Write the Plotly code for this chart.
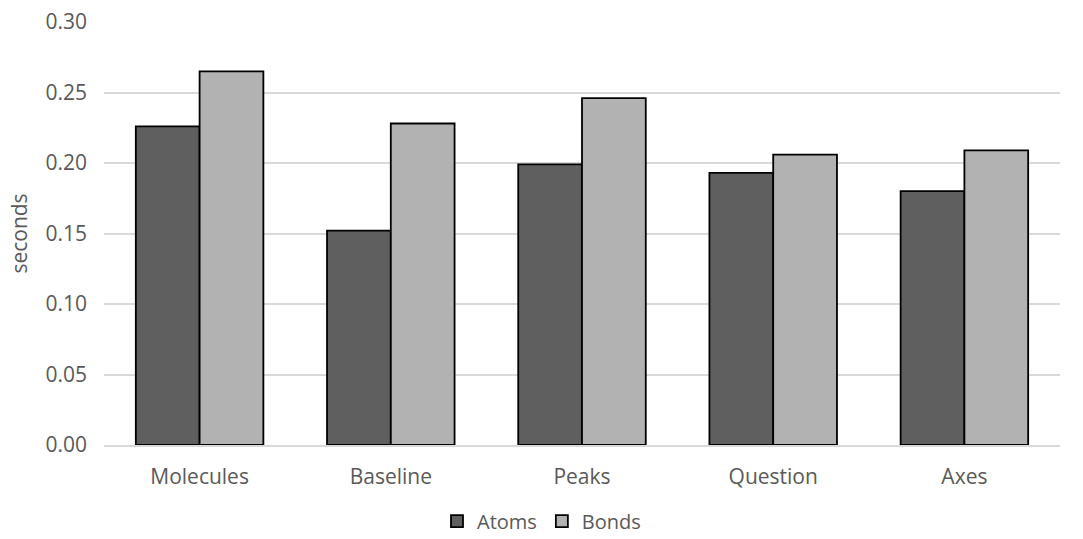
import plotly.graph_objects as go

# Data
categories = ["Molecules", "Baseline", "Peaks", "Question", "Axes"]
atoms = [0.226, 0.152, 0.199, 0.193, 0.180]
bonds = [0.265, 0.228, 0.246, 0.206, 0.209]
y_ticks = [0.00, 0.05, 0.10, 0.15, 0.20, 0.25, 0.30]

font_name = "Open Sans"
text_gray = "#595959"

fig = go.Figure()

fig.add_trace(go.Bar(x=categories, y=atoms, name="Atoms",
                     marker=dict(color="#5f5f5f", line=dict(color="black", width=1.8))))
fig.add_trace(go.Bar(x=categories, y=bonds, name="Bonds",
                     marker=dict(color="#b2b2b2", line=dict(color="black", width=1.8))))

fig.update_layout(
    width=1083, height=539,
    margin=dict(l=104, r=23, t=22, b=94, autoexpand=False),
    paper_bgcolor="white", plot_bgcolor="white",
    barmode="group", bargap=0.333, bargroupgap=0,
    font=dict(family=font_name, size=21, color=text_gray),
    showlegend=True,
    legend=dict(orientation="h", x=0.5, xanchor="center", xref="container",
                y=0.033, yanchor="middle", yref="container",
                font=dict(size=20, color=text_gray), itemwidth=30,
                traceorder="normal"),
)

fig.update_yaxes(range=[0, 0.30], tickvals=y_ticks, tickformat=".2f",
                 showgrid=True, gridcolor="#d9d9d9", gridwidth=1.5,
                 zeroline=False, showline=False, ticks="", automargin=False,
                 ticklabelstandoff=16,
                 title=dict(text="seconds", font=dict(size=21, color=text_gray), standoff=12))

fig.update_xaxes(showline=True, linecolor="#d9d9d9", linewidth=1.5, automargin=False,
                 ticks="", ticklabelstandoff=12, showgrid=False)

# drop the browser's default page margin so the figure sits at the top-left
fig.write_html("out.html", config={"displayModeBar": False},
               post_script="document.body.style.margin='0';")
